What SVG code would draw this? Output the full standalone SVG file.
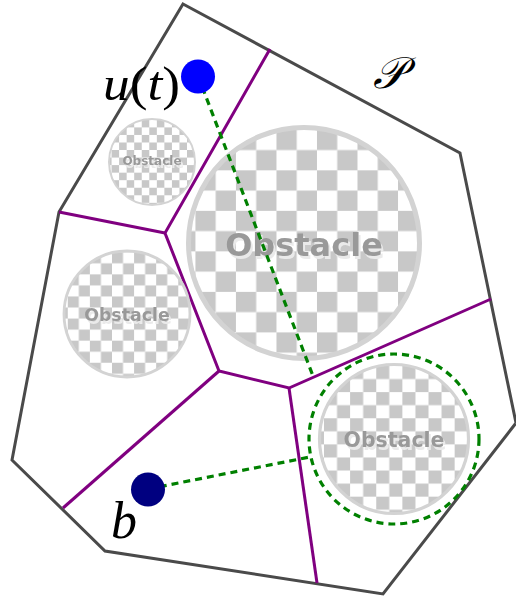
<svg xmlns="http://www.w3.org/2000/svg" width="516" height="598" viewBox="0 0 516 598">
<defs>
<pattern id="chk" patternUnits="objectBoundingBox" x="0.03" y="0.01" width="0.1754" height="0.1754" patternContentUnits="objectBoundingBox">
<rect x="0" y="0" width="0.1754" height="0.1754" fill="#ffffff"/>
<rect x="0" y="0" width="0.0877" height="0.0877" fill="#c8c8c8"/>
<rect x="0.0877" y="0.0877" width="0.0877" height="0.0877" fill="#c8c8c8"/>
</pattern>
<filter id="shadow" x="-10%" y="-20%" width="130%" height="150%">
<feFlood flood-color="#eaeaea" result="c"/>
<feComposite in="c" in2="SourceAlpha" operator="in" result="s"/>
<feOffset in="s" dx="1.5" dy="2.5" result="o"/>
<feMerge><feMergeNode in="o"/><feMergeNode in="SourceGraphic"/></feMerge>
</filter>
<style>
.border{fill:none;stroke:#4a4a4a;stroke-width:3;stroke-linejoin:miter}
.vor{fill:none;stroke:#800080;stroke-width:3;stroke-linecap:butt}
.obs{fill:url(#chk);stroke:#d3d3d3}
.otext{font-family:"DejaVu Sans",sans-serif;font-weight:bold;text-anchor:middle;fill:#999999;filter:url(#shadow)}
.dash{fill:none;stroke:#008000;stroke-width:3.2;stroke-dasharray:7,5}
.lbl{font-family:"Liberation Serif","DejaVu Serif",serif;fill:#000000}
</style>
</defs>
<rect width="516" height="598" fill="#ffffff"/>
<g id="region-P">
<polygon class="border" points="183,4 460,153 516,423 383,594 105,551 12,460 59,212"/>
</g>
<g id="voronoi">
<polyline class="vor" points="270,49 165,233 219,371 289,388 491,299"/>
<line class="vor" x1="59" y1="212" x2="165" y2="233"/>
<line class="vor" x1="219" y1="371" x2="63" y2="508"/>
<line class="vor" x1="289" y1="388" x2="317" y2="583"/>
</g>
<g id="obstacle-small">
<circle class="obs" cx="152" cy="162" r="43" stroke-width="2"/>
<text class="otext" x="152" y="165" font-size="12">Obstacle</text>
</g>
<g id="obstacle-big">
<circle class="obs" cx="304" cy="243" r="115.5" stroke-width="5"/>
<text class="otext" x="304" y="256" font-size="32">Obstacle</text>
</g>
<g id="obstacle-left">
<circle class="obs" cx="127" cy="314" r="63" stroke-width="2.8"/>
<text class="otext" x="127" y="320.5" font-size="17.4">Obstacle</text>
</g>
<g id="obstacle-right">
<circle class="obs" cx="394" cy="439" r="74.5" stroke-width="3.2"/>
<text class="otext" x="394" y="447" font-size="20.5">Obstacle</text>
</g>
<g id="connectors">
<line class="dash" x1="198" y1="76" x2="313" y2="376"/>
<line class="dash" x1="148" y1="489" x2="310" y2="457"/>
<circle class="dash" cx="394" cy="439" r="85"/>
</g>
<g id="point-u">
<circle cx="198" cy="76.5" r="17" fill="#0000ff"/>
<text class="lbl" x="103" y="100" font-size="48" textLength="77" lengthAdjust="spacingAndGlyphs"><tspan font-style="italic">u</tspan>(<tspan font-style="italic">t</tspan>)</text>
</g>
<g id="point-b">
<circle cx="148" cy="489.5" r="17" fill="#000080"/>
<text class="lbl" x="111" y="538" font-size="52" font-style="italic">b</text>
</g>
<g id="label-P">
<text class="lbl" x="373" y="88" font-size="44" font-style="italic">𝒫</text>
</g>
</svg>
